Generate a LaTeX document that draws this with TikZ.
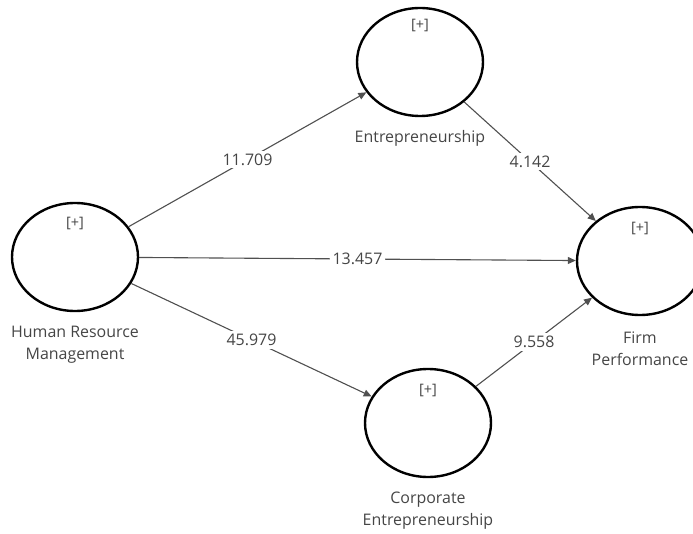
\documentclass[tikz,border=0pt]{standalone}
\usepackage{fontspec}
\setmainfont{Open Sans}
\usetikzlibrary{shapes.geometric,arrows.meta}
\definecolor{txtc}{HTML}{454545}
\definecolor{lnc}{HTML}{505050}
\tikzset{
  lvbox/.style={ellipse, draw=black, line width=2.4bp, minimum width=126bp, minimum height=108bp, inner sep=0pt},
  plusmark/.style={text=txtc, font=\fontsize{14.5}{16}\selectfont, inner sep=0pt},
  lvname/.style={text=txtc, font=\fontsize{16}{22}\selectfont, align=center, inner sep=0pt},
  conn/.style={draw=lnc, line width=1.1bp, -{Triangle[length=8bp,width=7bp]}},
  coef/.style={fill=white, text=txtc, font=\fontsize{16}{18}\selectfont, inner sep=3bp, pos=0.5}
}
\begin{document}
\begin{tikzpicture}[x=1bp,y=-1bp]
\useasboundingbox (0,0) rectangle (693,534);
\node[lvbox] (hrm) at (75,257) {};
\node[lvbox] (ent) at (420,62) {};
\node[lvbox] (firm) at (640,261) {};
\node[lvbox] (corp) at (428,423) {};
\node[plusmark] (p1) at (75,223) {[+]};
\node[plusmark] (p2) at (420,25) {[+]};
\node[plusmark] (p3) at (640,228) {[+]};
\node[plusmark] (p4) at (428,390) {[+]};
\node[lvname] (n1) at (75,345) {Human Resource\\Management};
\node[lvname] (n2) at (420,138) {Entrepreneurship};
\node[lvname] (n3) at (640,349) {Firm\\Performance};
\node[lvname] (n4) at (428,511) {Corporate\\Entrepreneurship};
\draw[conn] (hrm) -- (ent) node[coef] {11.709};
\draw[conn] (hrm) -- (firm) node[coef] {13.457};
\draw[conn] (hrm) -- (corp) node[coef] {45.979};
\draw[conn] (ent) -- (firm) node[coef] {4.142};
\draw[conn] (corp) -- (firm) node[coef] {9.558};
\end{tikzpicture}
\end{document}
